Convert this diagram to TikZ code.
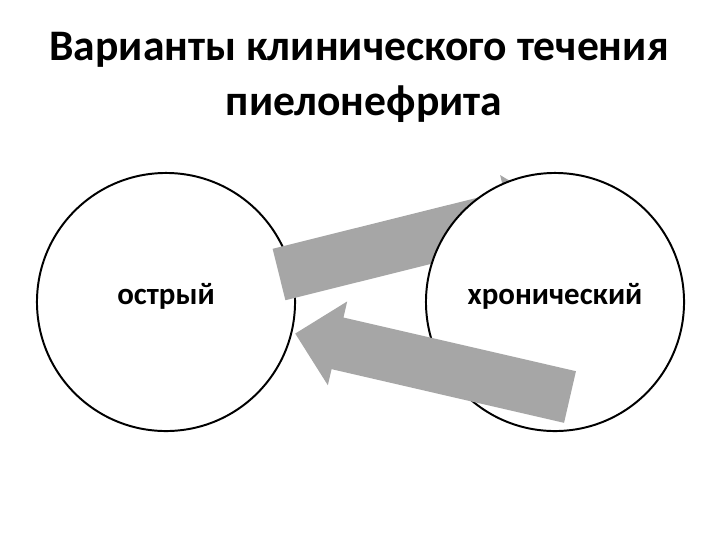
\documentclass[tikz,border=0pt]{standalone}
\usepackage{fontspec}
\setmainfont{Carlito}
\usetikzlibrary{positioning}
\definecolor{arrowgray}{RGB}{166,166,166}

\begin{document}
\begin{tikzpicture}[x=0.025cm, y=-0.025cm, line width=1.4pt]
\useasboundingbox (0,0) rectangle (720,540);
\tikzset{
    phase/.style={circle, draw=black, fill=white, inner sep=0pt, minimum size=6.45cm,
        text height=0.8ex, text depth=0pt,
        font=\bfseries\fontsize{22}{26}\selectfont},
    blockarrow/.style={fill=arrowgray, draw=none}
}
% Block arrow shape (length 282, shaft 53, head 86)
\def\arrowpath{(0,-26.5) -- (238.6,-26.5) -- (238.6,-43) -- (282,0) -- (238.6,43) -- (238.6,26.5) -- (0,26.5) -- cycle}

% Title
\node[anchor=base, font=\bfseries\fontsize{31}{36}\selectfont] (title1) at (359,60) {Варианты клинического течения};
\node[anchor=base, font=\bfseries\fontsize{31}{36}\selectfont] (title2) at (364,115) {пиелонефрита};

% Acute form
\node[phase] (acute) at (166,302) {острый};

% Arrow acute -> chronic
\begin{scope}[shift={(279,274.5)}, rotate=14]
    \fill[blockarrow] \arrowpath;
\end{scope}

% Chronic form
\node[phase] (chronic) at (555,302) {хронический};

% Arrow chronic -> acute
\begin{scope}[shift={(570,397)}, rotate=167]
    \fill[blockarrow] \arrowpath;
\end{scope}

\end{tikzpicture}
\end{document}
